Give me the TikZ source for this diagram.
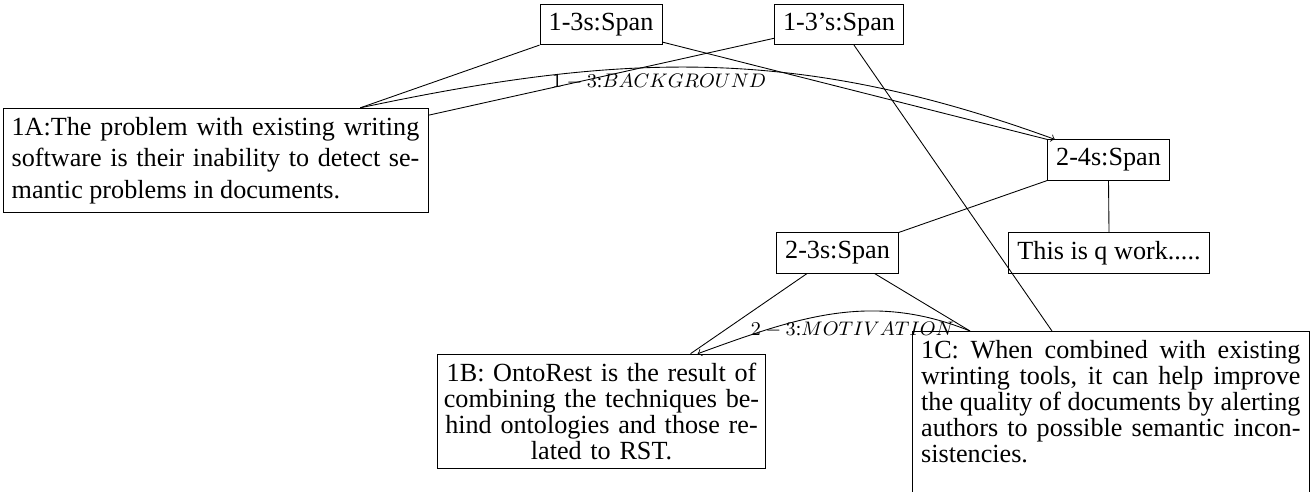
\documentclass[12pt,tikz,border=0pt]{standalone}
\usepackage{fontspec}
\setmainfont{Liberation Serif}
\tolerance=9999
\usetikzlibrary{calc}

\begin{document}
\begin{tikzpicture}[x=0.4587pt, y=0.4587pt]
	\tikzset{span/.style={draw, inner sep=4pt},
		seg/.style={draw, inner sep=4pt, font=\fontsize{12}{12}\selectfont},
		rel/.style={font=\fontsize{9}{11}\selectfont, inner sep=1pt}}
	\useasboundingbox (0,0) rectangle (1311,492);
	%Spans
	\node[span] (s13)  at (601,467.5)  {1-3s:Span};
	\node[span] (s13p) at (839,467.5)  {1-3's:Span};
	\node[span] (s24)  at (1108.5,332) {2-4s:Span};
	\node[span] (s23)  at (837.5,239)  {2-3s:Span};
	\node[span] (work) at (1109,239)   {This is q work.....};
	%Segmente
	\node[seg, text width=187pt, align=justify, font=\fontsize{12}{14.5}\selectfont] (n1A) at (215.5,331.5)
	{1A:The problem with existing writing\linebreak software is their inability to detect se-\linebreak mantic problems in documents.};
	\node[seg, text width=146pt, inner xsep=2.4pt, align=center] (n1B) at (601.5,80.5)
	{1B: OntoRest is the result of\\combining the techniques be-\\hind ontologies and those re-\\lated to RST.};
	\node[seg, text width=174pt, align=justify, anchor=north west] (n1C) at (912,161)
	{1C: When combined with existing\linebreak wrinting tools, it can help improve\linebreak the quality of documents by alerting\linebreak authors to possible semantic incon-\linebreak sistencies.\rule[-14pt]{0pt}{14pt}};
	%Baum
	\draw (s13.south west) -- (n1A.20);
	\draw (n1A.12.5) -- (s13p.192.6);
	\draw (s13.-16) -- (s24.north west);
	\draw (s13p.-54) -- ([xshift=64.2pt]n1C.north west);
	\draw (s24.south west) -- (s23.north east);
	\draw (s24.south) -- (work.north);
	\draw (s23.-146) -- (n1B.33.6);
	\draw (s23.-29.4) -- ([xshift=26.6pt]n1C.north west);
	%Relationen
	\draw[->] (n1A.20) to[out=12, in=160]
	node[rel, pos=0.42, below, yshift=-2pt] (lbg) {$1-3$:$BACKGROUND$} (s24.159);
	\draw[->] ([xshift=26.6pt]n1C.north west) to[out=158, in=20]
	node[rel, pos=0.43, below=3.5pt] (lmo) {$2-3$:$MOTIVATION$} (n1B.31);
\end{tikzpicture}
\end{document}
